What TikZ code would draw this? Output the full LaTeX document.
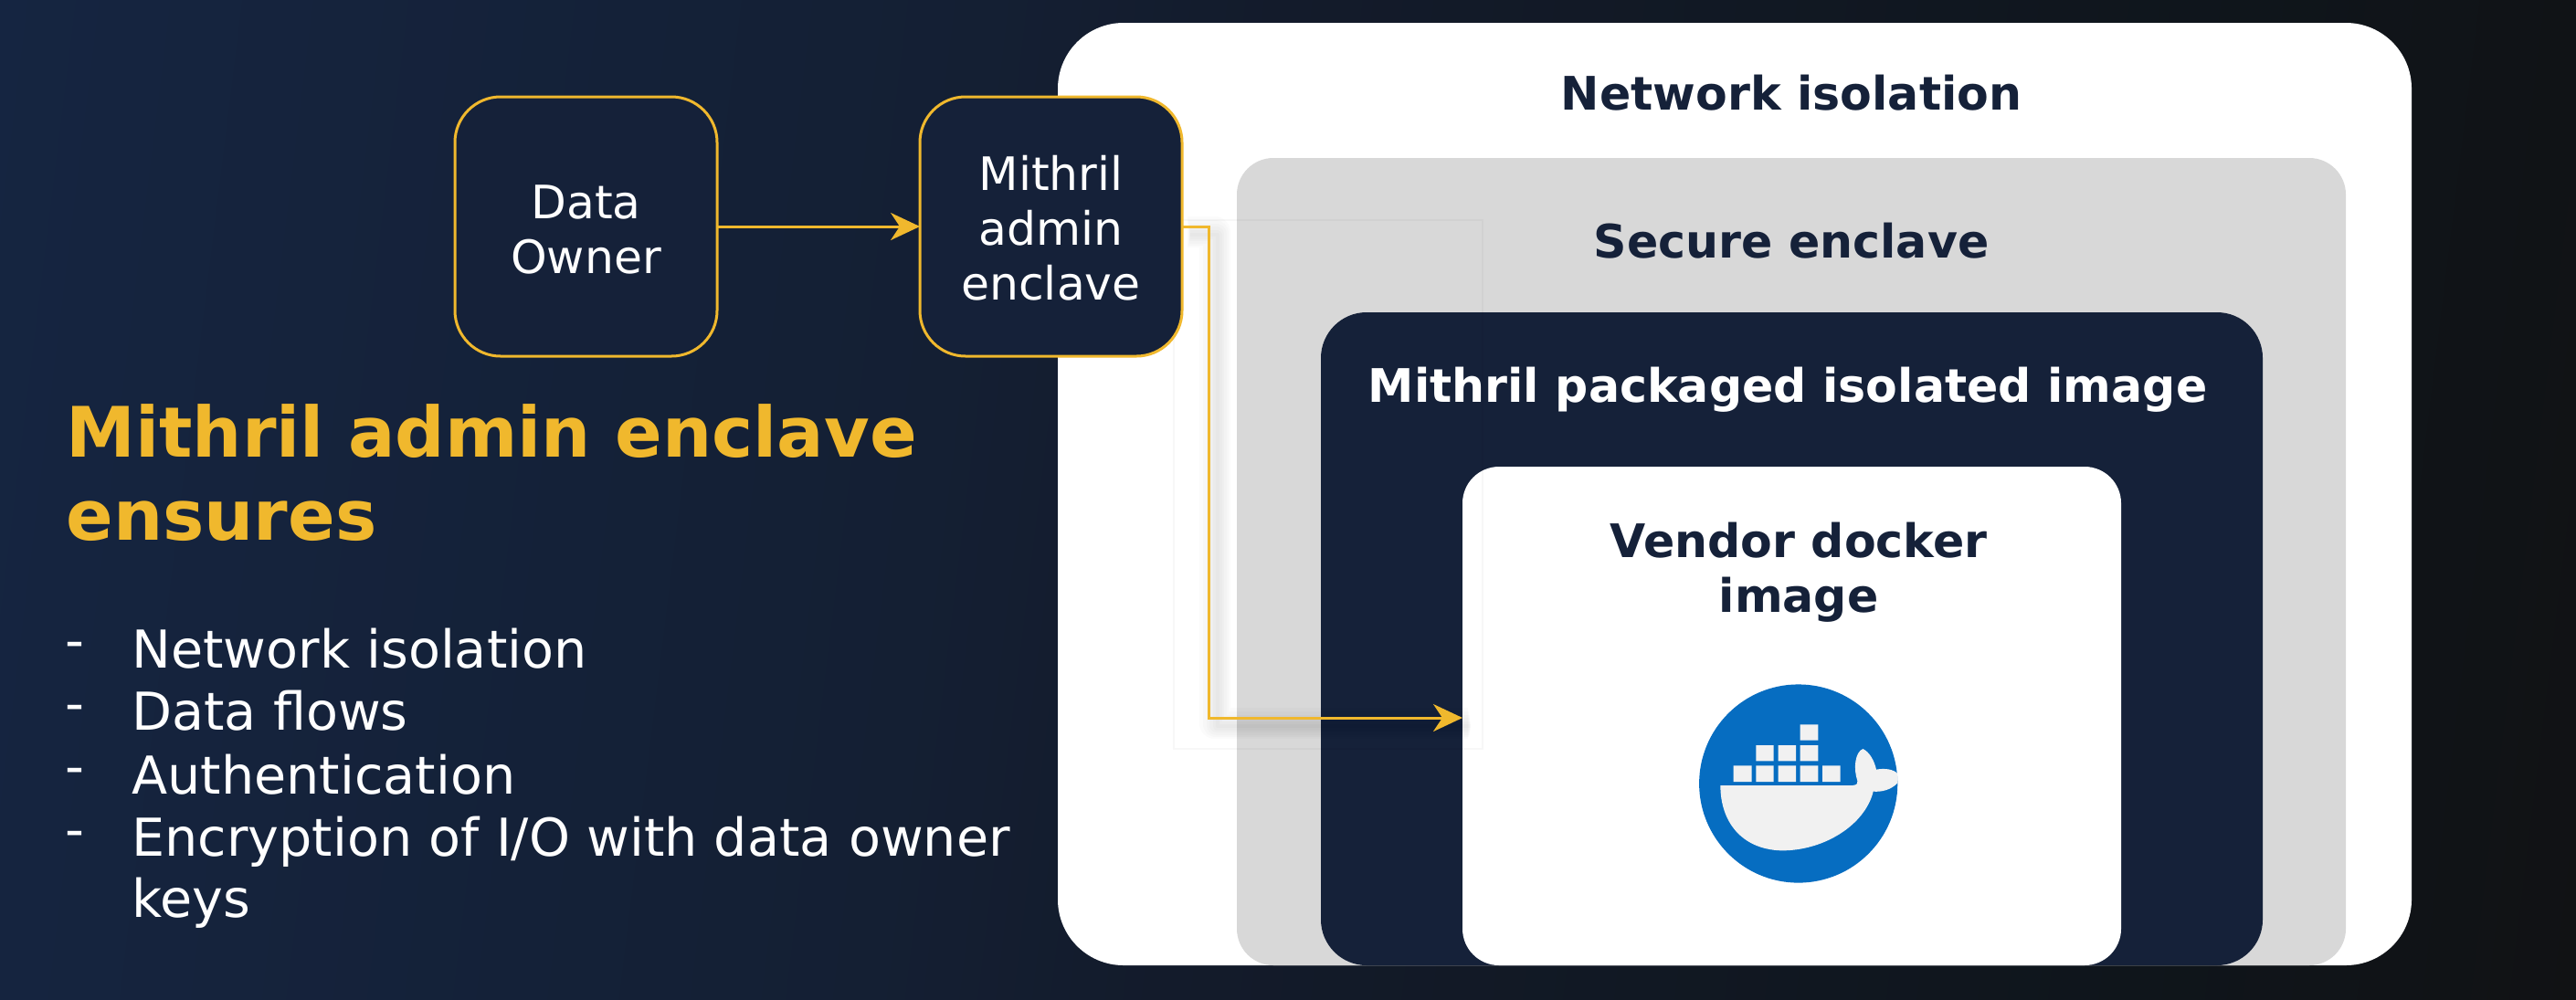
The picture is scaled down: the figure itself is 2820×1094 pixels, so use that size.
\documentclass[tikz,border=0pt]{standalone}
\usepackage{fontspec}
\setmainfont{DejaVu Sans}
\usetikzlibrary{arrows.meta}
\definecolor{navy}{HTML}{152139}
\definecolor{gold}{HTML}{F0B82D}
\definecolor{panel}{HTML}{D8D8D8}
\definecolor{dockerblue}{HTML}{066DC1}
\definecolor{whale}{HTML}{F1F1F1}
\definecolor{bga}{HTML}{152643}
\definecolor{bgb}{HTML}{152541}
\definecolor{bgc}{HTML}{141F33}
\definecolor{bgd}{HTML}{131B2B}
\definecolor{bge}{HTML}{0F151B}
\definecolor{bgf}{HTML}{111214}
\pgfdeclarehorizontalshading{bgfade}{100bp}{color(0bp)=(bga); color(22bp)=(bgb); color(42.6bp)=(bgc); color(48.6bp)=(bgd); color(68.6bp)=(bge); color(78bp)=(bgf); color(100bp)=(bgf)}
\tikzset{
  x=0.5pt,y=-0.5pt,
  panelbox/.style={rectangle,anchor=north west,inner sep=0pt,outer sep=0pt},
  flowbox/.style={panelbox,draw=gold,line width=1.5pt,fill=navy,text=white,rounded corners=25pt,
    minimum width=143.5pt,minimum height=142pt,align=center,text depth=0pt},
  boxlabel/.style={inner sep=0pt,align=center,text=white,font=\fontsize{25.2}{30}\selectfont},
  heading/.style={inner sep=0pt,anchor=base,align=center,font=\bfseries\fontsize{25.3}{30}\selectfont},
  bodytext/.style={inner sep=0pt,anchor=base west,text=white,font=\fontsize{28.6}{30}\selectfont},
  dashmark/.style={inner sep=0pt,anchor=base west,text=white,font=\fontsize{29}{30}\selectfont},
  titletext/.style={inner sep=0pt,anchor=base west,text=gold,font=\bfseries\fontsize{38.1}{40}\selectfont},
  flow/.style={draw=gold,line width=1.5pt,-{Stealth[length=16pt,width=15pt,inset=5pt]}},
  flowshade/.style={line join=round,draw=black,opacity=0.016},
}
\begin{document}
\begin{tikzpicture}
\useasboundingbox (0,0) rectangle (2820,1094);
\shade[shading=bgfade,shading angle=-7] (0,0) rectangle (2820,1094);

% nested panels
\node[panelbox,fill=white,rounded corners=36pt,minimum width=741pt,minimum height=516pt] (net) at (1158,25) {};
\node[panelbox,fill=panel,rounded corners=20pt,minimum width=607pt,minimum height=442pt] (sec) at (1354,173) {};
\node[panelbox,fill=navy,rounded corners=25pt,minimum width=515.5pt,minimum height=357.5pt] (pkg) at (1446,342) {};
\node[panelbox,fill=white,rounded corners=20pt,minimum width=360.5pt,minimum height=273pt] (vendor) at (1601,511) {};

% headings
\node[heading,text=navy] (hnet) at (1961,120) {Network isolation};
\node[heading,text=navy] (hsec) at (1961,282.5) {Secure enclave};
\node[heading,text=white] (hpkg) at (1957,440) {Mithril packaged isolated image};
\node[heading,text=navy] (hven) at (1969,670) {Vendor docker\\image};

% docker logo
\node[circle,fill=dockerblue,minimum size=108.6pt,inner sep=0pt,outer sep=0pt] (logo) at (1968.7,858) {};
\begin{scope}[shift={(1820,720)}]
\begin{scope}[x=0.16667pt,y=-0.16667pt]
  \fill[whale] (233,355) rectangle (293,408) (307,355) rectangle (365,408) (380,355) rectangle (438,408)
    (452,355) rectangle (511,408) (525,355) rectangle (584,408)
    (307,288) rectangle (365,340) (380,288) rectangle (438,340) (452,288) rectangle (511,340)
    (452,220) rectangle (511,272);
  \fill[whale] (190,420) -- (625,420) .. controls (640,418) and (642,412) .. (640,405)
    .. controls (626,365) and (632,310) .. (658,300)
    .. controls (680,310) and (696,340) .. (702,368)
    .. controls (730,362) and (762,368) .. (772,382)
    -- (772,412) .. controls (750,435) and (720,442) .. (692,440)
    .. controls (665,550) and (530,635) .. (390,634)
    .. controls (260,630) and (190,540) .. (190,420) -- cycle;
\end{scope}
\end{scope}

% faint frame
\draw[black,opacity=0.03,line width=0.8pt] (1285,241) rectangle (1623,820);

% flow boxes
\node[flowbox] (owner) at (498,106) {};
\node[flowbox] (admin) at (1007,106) {};
\node[boxlabel] (ownertext) at ([yshift=-1.5pt]owner.center) {Data\\Owner};
\node[boxlabel] (admintext) at ([yshift=-1pt]admin.center) {Mithril\\admin\\enclave};

\coordinate (bend) at (1323.5,248);
\coordinate (tip) at (1601,786);
\coordinate (corner) at (bend |- tip);
\foreach \w/\d in {2/9,5/9,8/8,11/8,14/7,17/6}{
  \draw[flowshade,line width=\w pt] ([shift={(\d,\d)}]admin.east) -- ([shift={(\d,\d)}]bend) -- ([shift={(\d,\d)}]corner) -- ([shift={(\d,\d)}]tip);
}
\draw[flow] (owner.east) -- (admin.west);
\draw[flow] (admin.east) -- (bend) -- (corner) -- (tip);

% left text
\node[titletext] (t1) at (72,500) {Mithril admin enclave};
\node[titletext] (t2) at (72,591) {ensures};
\node[dashmark] (d1) at (71,721) {-};
\node[dashmark] (d2) at (71,790) {-};
\node[dashmark] (d3) at (71,859) {-};
\node[dashmark] (d4) at (71,928) {-};
\node[bodytext] (b1) at (144,731) {Network isolation};
\node[bodytext] (b2) at (144,799) {Data flows};
\node[bodytext] (b3) at (144,869) {Authentication};
\node[bodytext] (b4) at (144,937) {Encryption of I/O with data owner};
\node[bodytext] (b5) at (144,1004) {keys};
\end{tikzpicture}
\end{document}
